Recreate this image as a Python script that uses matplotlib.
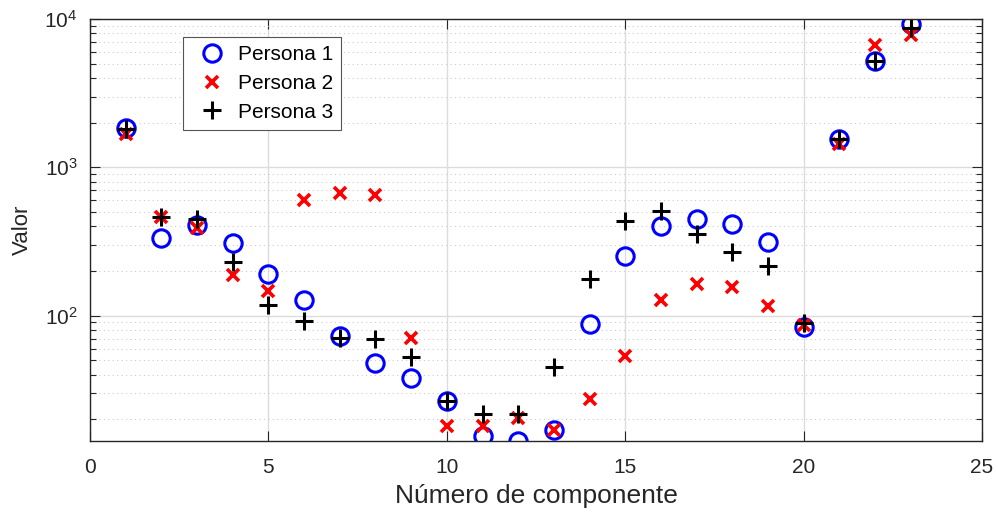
import numpy as np
import matplotlib.pyplot as plt
from matplotlib.ticker import LogLocator, NullFormatter, FixedLocator

plt.rcParams['font.family'] = ['Liberation Sans', 'DejaVu Sans']

componente = list(range(1, 24))
persona1 = [1840, 335, 410, 308, 190, 127, 73, 47.9, 38.3, 26.8, 15.5, 14.3,
            17.1, 88, 253, 404, 452, 412, 313, 84, 1546, 5180, 9250]
persona2 = [1680, 461, 392, 187, 146, 601, 667, 654, 70.6, 18.1, 18.0, 20.4,
            17.1, 27.5, 53.5, 127, 163, 156, 117, 87, 1430, 6670, 7800]
persona3 = [1820, 461, 450, 229, 118, 91.5, 71, 69.6, 52.3, 26.8, 21.9, 21.9,
            45.4, 177, 433, 505, 353, 269, 215, 89, 1560, 5180, 8690]

dark = '#262626'

fig = plt.figure(figsize=(9.98, 5.16), dpi=100)
ax = fig.add_axes([0.0902, 0.1453, 0.8938, 0.8179])

ax.plot(componente, persona1, 'o', ls='none', color='#0000ff', mfc='none',
        ms=12.5, mew=2.2, label='Persona 1')
ax.plot(componente, persona2, 'x', ls='none', color='#ff0000',
        ms=9, mew=2.6, label='Persona 2')
ax.plot(componente, persona3, '+', ls='none', color='black',
        ms=13, mew=2.2, label='Persona 3')

ax.set_yscale('log')
ax.set_xlim(0, 25)
ax.set_ylim(14.3, 1e4)
ax.xaxis.set_major_locator(FixedLocator([0, 5, 10, 15, 20, 25]))
ax.yaxis.set_major_locator(LogLocator(base=10, numticks=10))
ax.yaxis.set_minor_locator(LogLocator(base=10, subs=np.arange(2, 10), numticks=20))
ax.yaxis.set_minor_formatter(NullFormatter())

ax.grid(True, which='major', color='#dcdcdc', lw=1.0, ls='-')
ax.grid(True, which='minor', axis='y', color='#cccccc', lw=0.8, ls=(0, (1, 3)))
ax.set_axisbelow(True)

ax.tick_params(which='both', direction='in', top=True, right=True, colors=dark,
               labelsize=15)
ax.tick_params(which='major', length=7, width=0.8)
ax.tick_params(which='minor', length=4, width=0.8)
ax.tick_params(axis='x', which='major', pad=12)
ax.tick_params(axis='y', which='major', pad=9)
for s in ax.spines.values():
    s.set_color(dark)
    s.set_linewidth(1.0)

ax.set_xlabel('Número de componente', fontsize=19, color=dark, labelpad=5)
ax.set_ylabel('Valor', fontsize=16, color=dark, labelpad=8)

leg = ax.legend(loc='upper left', bbox_to_anchor=(0.1043, 0.957), fontsize=15,
                frameon=True, fancybox=False, edgecolor='#555555',
                borderaxespad=0, handletextpad=0.26, borderpad=0.38,
                labelspacing=0.47, handlelength=2.0, framealpha=1)
leg.get_frame().set_linewidth(0.8)
for t in leg.get_texts():
    t.set_color('black')

fig.savefig('out.png', dpi=100)
